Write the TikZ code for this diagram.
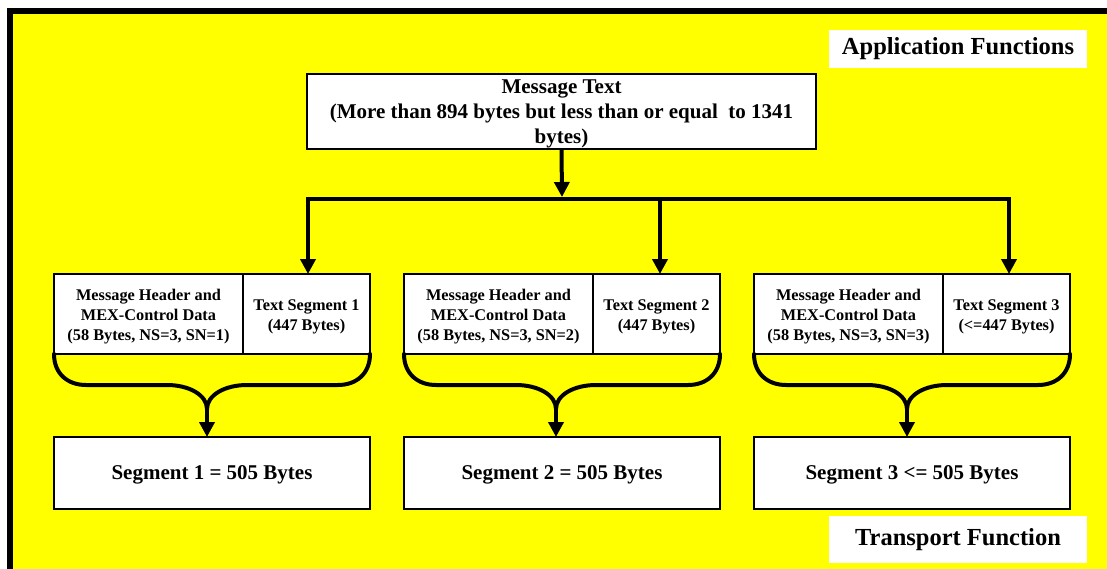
\documentclass[tikz,border=0pt]{standalone}
\usepackage{fontspec}
\setmainfont{Liberation Serif}
\usetikzlibrary{arrows.meta,calc}

\definecolor{panel}{RGB}{255,255,0}

\tikzset{
  box/.style={draw=black, line width=2pt, fill=white, inner sep=0pt, outer sep=0pt},
  msgbox/.style={box, minimum width=509pt, minimum height=75pt},
  hdrbox/.style={box, minimum width=189pt, minimum height=80pt},
  txtbox/.style={box, minimum width=127pt, minimum height=80pt},
  segbox/.style={box, minimum width=316pt, minimum height=72pt},
  smalltext/.style={inner sep=0pt, align=center, font=\bfseries\fontsize{16.3}{20}\selectfont},
  bigtext/.style={inner sep=0pt, align=center, font=\bfseries\fontsize{21}{25}\selectfont},
  label/.style={fill=white, inner sep=0pt, minimum width=258pt,
                font=\bfseries\fontsize{24.5}{28}\selectfont},
  conn/.style={line width=4pt, line join=miter},
  arr/.style={-{Triangle[length=15pt,width=15pt]}},
  barr/.style={{Triangle[length=15pt,width=15pt]}-{Triangle[length=15pt,width=15pt]}}
}

\begin{document}
\begin{tikzpicture}[x=1pt,y=-1pt]
  % page and yellow panel with its heavy frame
  \useasboundingbox (0,0) rectangle (1107,569);
  \clip (0,0) rectangle (1107,569);
  \fill[white] (0,0) rectangle (1107,569);
  \draw[line width=6pt, fill=panel] (10,11) rectangle (1140,600);

  % layer labels
  \node[label, minimum height=38pt] (app) at (958,49) {Application Functions};
  \node[label, minimum height=47pt] (trn) at (958,539.5) {Transport Function};

  % message to be split
  \node[msgbox] (msg) at (561.5,111.5) {};
  \node[bigtext] (msgt) at ([yshift=-2pt]msg.center)
    {Message Text\\(More than 894 bytes but less than or equal\ \ to 1341\\bytes)};

  % header + text segment pairs
  \node[hdrbox] (hdr1) at (148.5,314) {};
  \node[txtbox] (txt1) at (306.5,314) {};
  \node[hdrbox] (hdr2) at (498.5,314) {};
  \node[txtbox] (txt2) at (656.5,314) {};
  \node[hdrbox] (hdr3) at (848.5,314) {};
  \node[txtbox] (txt3) at (1006.5,314) {};
  \node[smalltext] (hdr1t) at ([yshift=-3pt]hdr1.center) {Message Header and\\MEX-Control Data\\(58 Bytes, NS=3, SN=1)};
  \node[smalltext] (txt1t) at ([yshift=-3pt]txt1.center) {Text Segment 1\\(447 Bytes)};
  \node[smalltext] (hdr2t) at ([yshift=-3pt]hdr2.center) {Message Header and\\MEX-Control Data\\(58 Bytes, NS=3, SN=2)};
  \node[smalltext] (txt2t) at ([yshift=-3pt]txt2.center) {Text Segment 2\\(447 Bytes)};
  \node[smalltext] (hdr3t) at ([yshift=-3pt]hdr3.center) {Message Header and\\MEX-Control Data\\(58 Bytes, NS=3, SN=3)};
  \node[smalltext] (txt3t) at ([yshift=-3pt]txt3.center) {Text Segment 3\\(<=447 Bytes)};

  % resulting transport segments
  \node[segbox] (seg1) at (212,473) {};
  \node[segbox] (seg2) at (562,473) {};
  \node[segbox] (seg3) at (912,473) {};
  \node[bigtext] (seg1t) at ([yshift=-2pt]seg1.center) {Segment 1 = 505 Bytes};
  \node[bigtext] (seg2t) at ([yshift=-2pt]seg2.center) {Segment 2 = 505 Bytes};
  \node[bigtext] (seg3t) at ([yshift=-2pt]seg3.center) {Segment 3 <= 505 Bytes};

  % distribution bus
  \coordinate (tap) at (562,197);
  \coordinate (bus1) at (308,199);
  \coordinate (bus2) at (660,199);
  \coordinate (bus3) at (1009,199);
  \draw[conn, arr] (msg.south) -- (tap);
  \draw[conn, barr] (bus1 |- txt1.north) -- (bus1) -- (bus3) -- (bus3 |- txt3.north);
  \draw[conn, arr] (bus2) -- (bus2 |- txt2.north);

  % braces gathering each pair into one segment
  \coordinate (cusp1) at (207,409);
  \coordinate (cusp2) at (556,409);
  \coordinate (cusp3) at (907,409);
  \foreach \i in {1,2,3} {
    \draw[conn, line cap=round]
      (hdr\i.south west) .. controls +(0,20) and +(-18,0) .. ($(hdr\i.south west)+(32,31)$)
      -- ($(cusp\i)+(-40,-24)$) .. controls +(22,0) and +(0,-14) .. (cusp\i)
      .. controls +(0,-14) and +(-22,0) .. ($(cusp\i)+(40,-24)$)
      -- ($(txt\i.south east)+(-32,31)$) .. controls +(18,0) and +(0,20) .. (txt\i.south east);
    \draw[conn, arr] (cusp\i) -- (cusp\i |- seg\i.north);
  }
\end{tikzpicture}
\end{document}
